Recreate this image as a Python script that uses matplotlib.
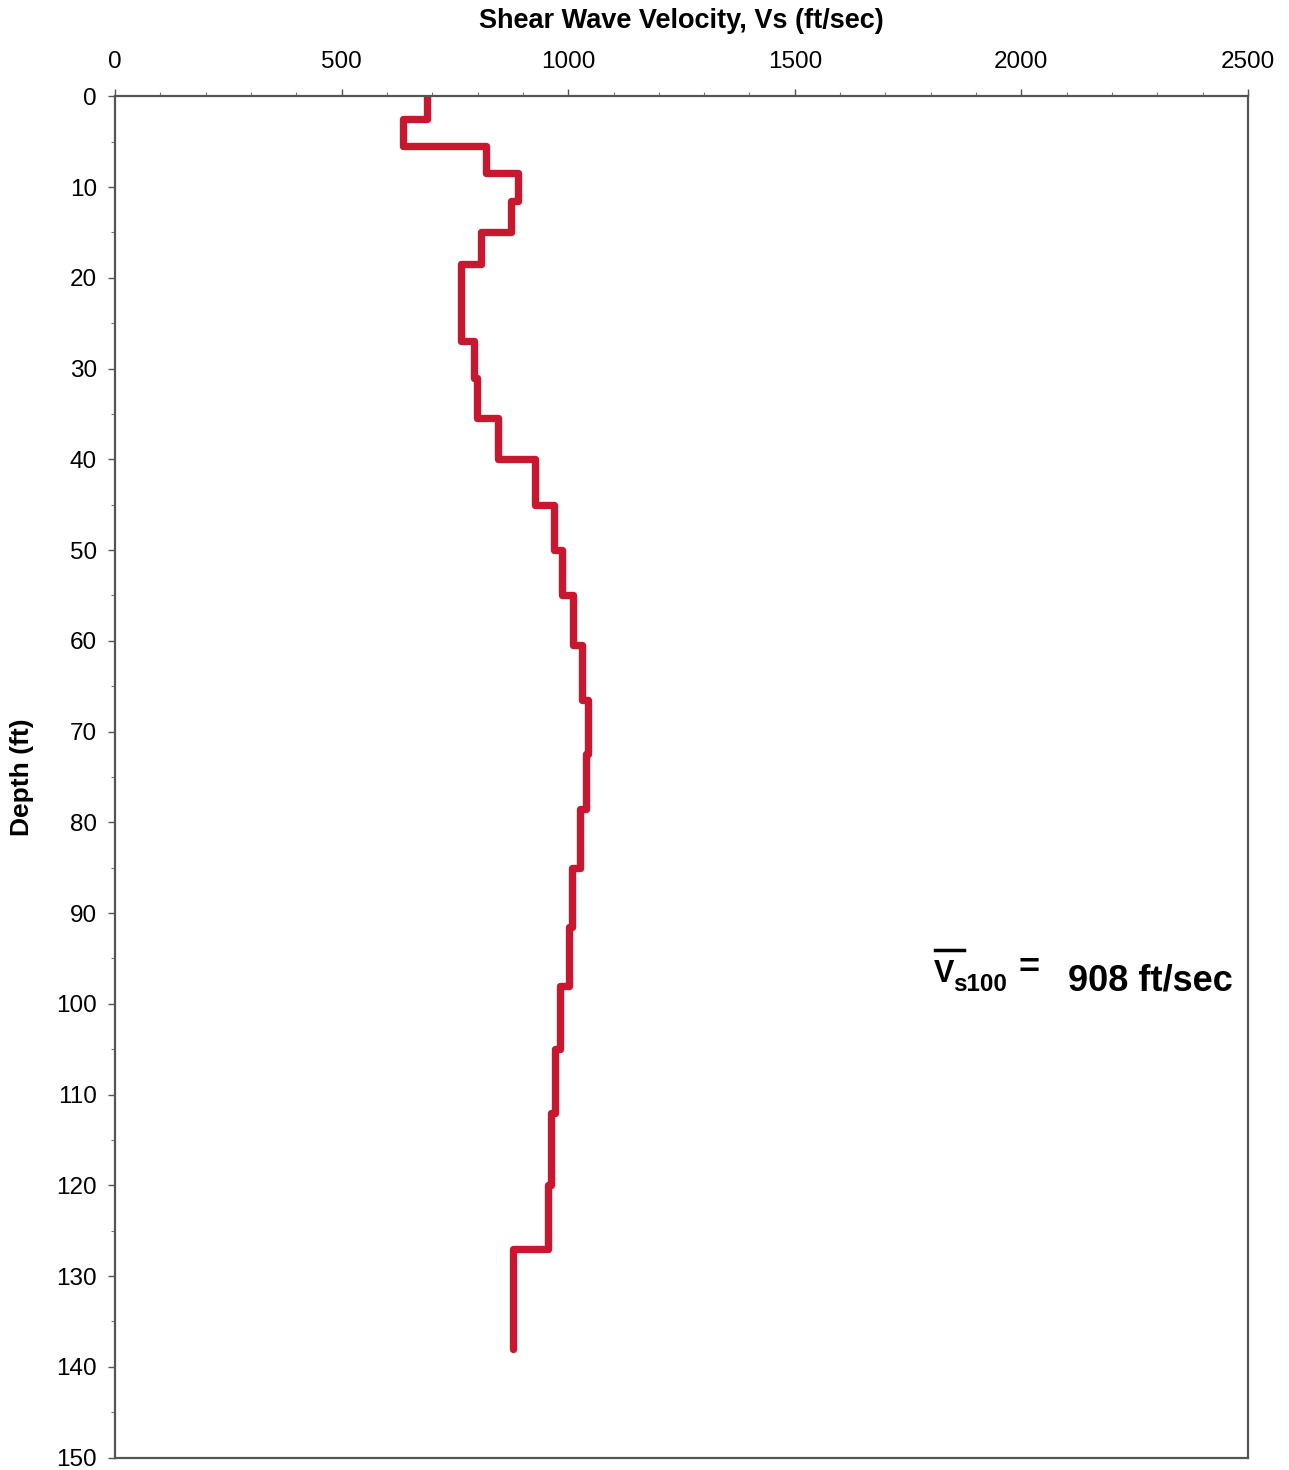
import matplotlib
matplotlib.use("Agg")
import matplotlib.pyplot as plt
from matplotlib.ticker import MultipleLocator
from matplotlib.lines import Line2D

# layer boundaries (ft) and shear wave velocity of each layer (ft/sec)
depth_edges = [0, 2.5, 5.5, 8.5, 11.5, 15, 18.5, 27, 31, 35.5, 40, 45, 50, 55,
               60.5, 66.5, 72.5, 78.5, 85, 91.5, 98, 105, 112, 120, 127, 138]
vs = [688, 635, 818, 889, 874, 808, 763, 792, 799, 845, 927, 969, 986, 1011,
      1030, 1044, 1039, 1026, 1008, 1002, 982, 971, 962, 955, 878]

x_ticks = [0, 500, 1000, 1500, 2000, 2500]
y_ticks = list(range(0, 151, 10))

plt.rcParams['font.family'] = ['Liberation Sans', 'DejaVu Sans']

fig = plt.figure(figsize=(12.89, 14.70), dpi=100)
ax = fig.add_axes([0.0892, 0.0085, 0.879, 0.926])

# step profile
sp = ax.stairs(vs, depth_edges, orientation='horizontal', baseline=None,
               color='#c8172e', linewidth=5.3)
sp.set_joinstyle('round')
sp.set_capstyle('round')

ax.set_xlim(0, 2500)
ax.set_ylim(150, 0)
ax.set_xticks(x_ticks)
ax.set_yticks(y_ticks)
ax.xaxis.set_minor_locator(MultipleLocator(100))
ax.yaxis.set_minor_locator(MultipleLocator(5))
ax.xaxis.tick_top()
ax.xaxis.set_label_position('top')

ax.tick_params(which='major', direction='out', length=5, width=1, color='#555',
               labelsize=17.5, pad=12)
ax.tick_params(which='minor', direction='out', length=3, width=0.8, color='#777')
ax.tick_params(axis='y', pad=8)
for s in ax.spines.values():
    s.set_color('#555')
    s.set_linewidth(1.6)

ax.set_xlabel("Shear Wave Velocity, Vs (ft/sec)", fontsize=19.5, fontweight='bold',
              labelpad=16)
ax.set_ylabel("Depth (ft)", fontsize=19, fontweight='bold', labelpad=16)

# average velocity annotation
fig.text(0.7245, 0.332, "V", fontsize=22, fontweight='bold', ha='left', va='baseline')
fig.text(0.7395, 0.326, "s100", fontsize=17.5, fontweight='bold', ha='left', va='baseline')
fig.text(0.7905, 0.335, "=", fontsize=26, fontweight='bold', ha='left', va='baseline')
fig.text(0.8285, 0.326, "908 ft/sec", fontsize=26, fontweight='bold', ha='left',
         va='baseline')
fig.add_artist(Line2D([0.7255, 0.7475], [0.3535, 0.3535], color='black', linewidth=2.5))

fig.savefig("out.png", dpi=100)
